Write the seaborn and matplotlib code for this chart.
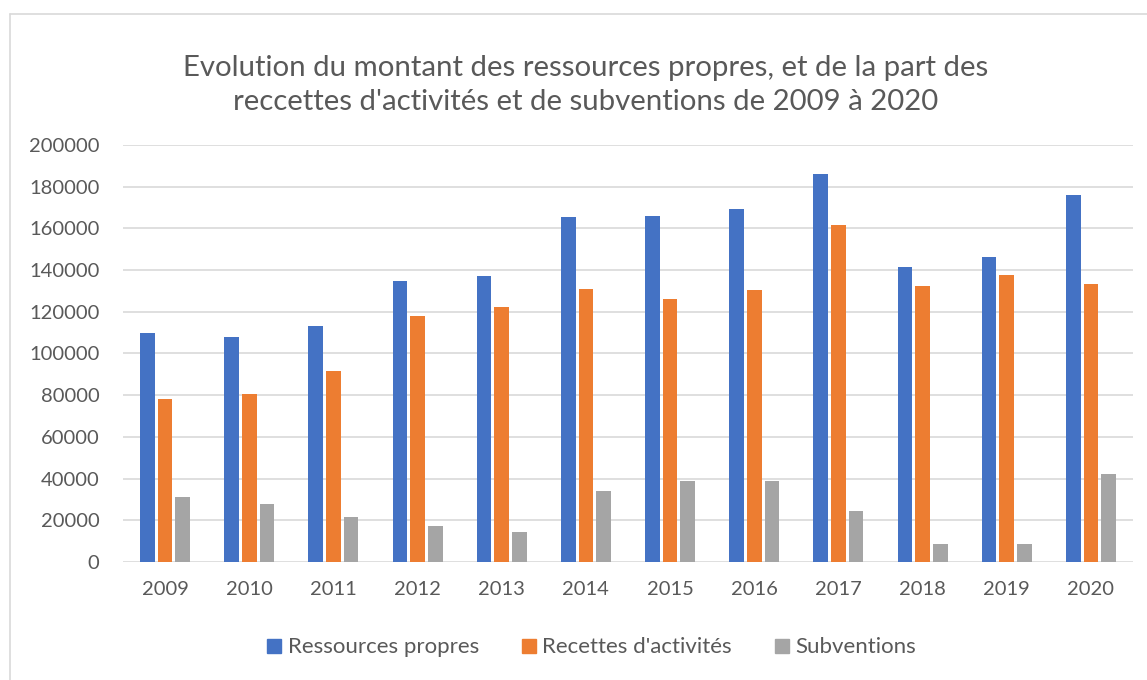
import seaborn as sns
import pandas as pd
import matplotlib.pyplot as plt
from matplotlib.lines import Line2D

# values
years = ["2009", "2010", "2011", "2012", "2013", "2014",
         "2015", "2016", "2017", "2018", "2019", "2020"]
ressources = [109700, 108100, 113000, 135000, 137000, 165500,
              165800, 169500, 186300, 141300, 146200, 175900]
recettes = [78000, 80400, 91600, 117800, 122300, 131000,
            125900, 130400, 161500, 132600, 137600, 133300]
subventions = [31400, 27600, 21400, 17200, 14500, 34000,
               38800, 38900, 24600, 8600, 8600, 42000]
series = ["Ressources propres", "Recettes d'activités", "Subventions"]
colors = ["#4472C4", "#ED7D31", "#A5A5A5"]
yticks = [0, 20000, 40000, 60000, 80000, 100000, 120000, 140000,
          160000, 180000, 200000]

df = pd.DataFrame({"Année": years, series[0]: ressources,
                   series[1]: recettes, series[2]: subventions})
df = df.melt(id_vars="Année", var_name="Série", value_name="Montant")

sns.set_style("white")
plt.rcParams["font.family"] = ["Lato", "DejaVu Sans"]

fig = plt.figure(figsize=(11.47, 6.8), dpi=100)
ax = fig.add_axes([0.1072, 0.1735, 0.8806, 0.6133])

sns.barplot(data=df, x="Année", y="Montant", hue="Série", palette=colors,
            width=0.63, gap=0.17, ax=ax, saturation=1, linewidth=0)

ax.set_ylim(0, 200000)
ax.set_yticks(yticks)
ax.set_yticklabels([str(v) for v in yticks])
ax.set_xlim(-0.5, len(years) - 0.5)
ax.yaxis.grid(True, color="#D9D9D9", linewidth=1.2)
ax.set_axisbelow(True)
for s in ax.spines.values():
    s.set_visible(False)
ax.tick_params(axis="both", length=0, labelsize=14.5, colors="#595959")
ax.tick_params(axis="y", pad=17)
ax.tick_params(axis="x", pad=14)
ax.set_xlabel("")
ax.set_ylabel("")

ax.get_legend().remove()
handles = [Line2D([], [], marker="s", linestyle="", markersize=10,
                  markerfacecolor=c, markeredgecolor=c) for c in colors]
fig.legend(handles, series, loc="center", bbox_to_anchor=(0.515, 0.048),
           ncol=3, frameon=False, fontsize=16, labelcolor="#595959",
           handletextpad=0.2, columnspacing=1.85, handlelength=0.8)

fig.text(0.511, 0.875,
         "Evolution du montant des ressources propres, et de la part des\n"
         "reccettes d'activités et de subventions de 2009 à 2020",
         ha="center", va="center", fontsize=21.2, color="#595959",
         linespacing=1.35)

# chart area border (only left and top edge visible in the crop)
fig.add_artist(Line2D([10 / 1147, 10 / 1147], [0, 1 - 14 / 680],
                      color="#D9D9D9", linewidth=1.2))
fig.add_artist(Line2D([10 / 1147, 1], [1 - 14 / 680, 1 - 14 / 680],
                      color="#D9D9D9", linewidth=1.2))

fig.savefig("out.png", dpi=100)
